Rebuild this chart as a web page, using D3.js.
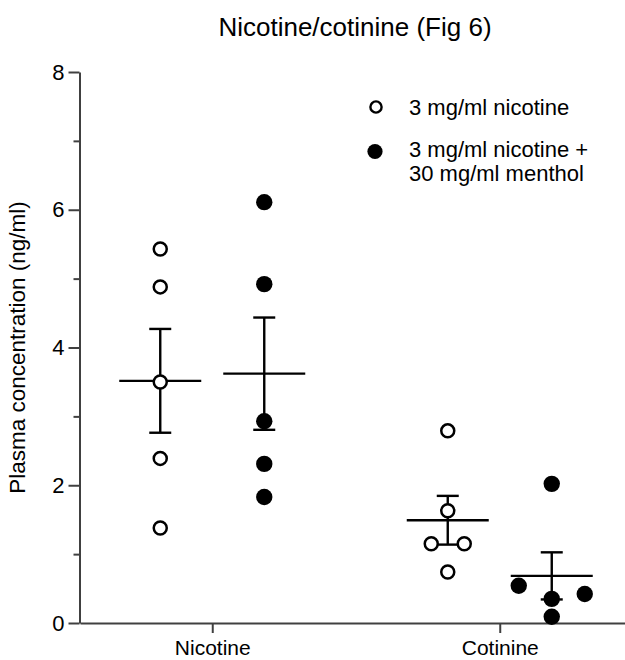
<!DOCTYPE html>
<html>
<head>
<meta charset="utf-8">
<title>Nicotine/cotinine (Fig 6)</title>
<script src="https://cdn.jsdelivr.net/npm/d3@7"></script>
<style>
  body { margin: 0; background: #fff; }
  svg text { font-family: Arial, "Liberation Sans", Helvetica, sans-serif; fill: #000; }
</style>
</head>
<body>
<script>
// data (ng/ml)
const categories = ["Nicotine", "Cotinine"];
const series = ["3 mg/ml nicotine", "3 mg/ml nicotine + 30 mg/ml menthol"];
const nicotineOnly = {
  Nicotine: [5.43, 4.88, 3.50, 2.39, 1.38],
  Cotinine: [2.79, 1.63, 1.15, 1.15, 0.74]
};
const nicotineMenthol = {
  Nicotine: [6.11, 4.92, 2.93, 2.31, 1.83],
  Cotinine: [2.02, 0.35, 0.54, 0.42, 0.09]
};
const yTicks = [0, 2, 4, 6, 8];
const yMinorTicks = [1, 3, 5, 7];

const width = 625, height = 660;
const svg = d3.select("body").append("svg")
  .attr("width", width)
  .attr("height", height);

const y = d3.scaleLinear().domain([0, 8]).range([623, 72]);
const x = d3.scalePoint().domain(categories).range([80, 632]).padding(0.46);
const xs = d3.scalePoint().domain(series).range([-52, 52]);

// axes
const axisColor = "#404040";
const gy = svg.append("g").attr("transform", "translate(79.5,0)")
  .call(d3.axisLeft(y).tickValues(yTicks).tickSize(11).tickPadding(4).tickSizeOuter(0));
svg.append("g").attr("transform", "translate(79.5,0)")
  .call(d3.axisLeft(y).tickValues(yMinorTicks).tickSize(6).tickFormat("").tickSizeOuter(0))
  .select(".domain").remove();
const gx = svg.append("g").attr("transform", "translate(0,623)")
  .call(d3.axisBottom(x).tickSize(10).tickPadding(7).tickSizeOuter(0));

svg.selectAll(".domain, .tick line")
  .attr("stroke", axisColor).attr("stroke-width", 2);
gy.selectAll("text").style("font-size", "22px");
gx.selectAll("text").style("font-size", "21px");

// title + axis label
svg.append("text")
  .attr("x", 355).attr("y", 36)
  .attr("text-anchor", "middle")
  .style("font-size", "26px")
  .text("Nicotine/cotinine (Fig 6)");

svg.append("text")
  .attr("transform", "translate(25," + y(4) + ") rotate(-90)")
  .attr("text-anchor", "middle")
  .style("font-size", "22.5px")
  .text("Plasma concentration (ng/ml)");

// place points of one column in rows, spread sideways like a column scatter
const spacing = 33;
function spread(values) {
  const idx = values.map((v, i) => i).sort((a, b) => values[a] - values[b]);
  const rows = [];
  idx.forEach(i => {
    const last = rows[rows.length - 1];
    if (last && y(values[last[0]]) - y(values[i]) <= 16) last.push(i);
    else rows.push([i]);
  });
  const off = new Array(values.length).fill(0);
  rows.forEach(r => {
    r.sort((a, b) => a - b);
    const n = r.length;
    r.forEach((i, k) => {
      let slot;
      if (n % 2) slot = k === 0 ? 0 : (k % 2 ? -1 : 1) * Math.ceil(k / 2);
      else slot = (k % 2 ? 1 : -1) * (Math.floor(k / 2) + 0.5);
      off[i] = slot * spacing;
    });
  });
  return off;
}

const groups = [];
categories.forEach(c => {
  [nicotineOnly, nicotineMenthol].forEach((d, si) => {
    const vals = d[c];
    const mean = d3.mean(vals);
    const sem = d3.deviation(vals) / Math.sqrt(vals.length);
    groups.push({ cx: x(c) + xs(series[si]), vals, mean, sem, filled: si === 1 });
  });
});

const stat = svg.append("g").attr("stroke", "#000").attr("stroke-width", 2.4);
groups.forEach(g => {
  stat.append("line").attr("x1", g.cx - 41).attr("x2", g.cx + 41)
    .attr("y1", y(g.mean)).attr("y2", y(g.mean));
  stat.append("line").attr("x1", g.cx).attr("x2", g.cx)
    .attr("y1", y(g.mean + g.sem)).attr("y2", y(g.mean - g.sem));
  [g.mean + g.sem, g.mean - g.sem].forEach(v => {
    stat.append("line").attr("x1", g.cx - 11).attr("x2", g.cx + 11)
      .attr("y1", y(v)).attr("y2", y(v));
  });
});

groups.forEach(g => {
  const off = spread(g.vals);
  svg.append("g").selectAll("circle")
    .data(g.vals)
    .join("circle")
    .attr("cx", (v, i) => g.cx + off[i])
    .attr("cy", v => y(v))
    .attr("r", g.filled ? 8.2 : 6.5)
    .attr("fill", g.filled ? "#000" : "#fff")
    .attr("stroke", g.filled ? "none" : "#000")
    .attr("stroke-width", 2.5);
});

// legend
const legend = svg.append("g");
legend.append("circle").attr("cx", 376).attr("cy", 107).attr("r", 5.6)
  .attr("fill", "#fff").attr("stroke", "#000").attr("stroke-width", 2.4);
legend.append("text").attr("x", 409).attr("y", 115)
  .style("font-size", "22px").text(series[0]);
legend.append("circle").attr("cx", 375).attr("cy", 151.5).attr("r", 7.6).attr("fill", "#000");
legend.append("text").attr("x", 409).attr("y", 157)
  .style("font-size", "22px")
  .selectAll("tspan")
  .data(["3 mg/ml nicotine +", "30 mg/ml menthol"])
  .join("tspan")
  .attr("x", 409)
  .attr("dy", (d, i) => i ? 23.5 : 0)
  .text(d => d);
</script>
</body>
</html>
